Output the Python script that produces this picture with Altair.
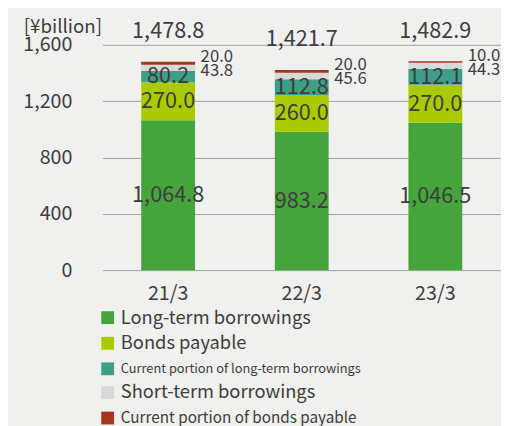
import altair as alt
import pandas as pd

periods = ["21/3", "22/3", "23/3"]
series = [
    "Long-term borrowings",
    "Bonds payable",
    "Current portion of long-term borrowings",
    "Short-term borrowings",
    "Current portion of bonds payable",
]
long_term = [1064.8, 983.2, 1046.5]
bonds = [270.0, 260.0, 270.0]
current_lt = [80.2, 112.8, 112.1]
short_term = [43.8, 45.6, 44.3]
current_bonds = [20.0, 20.0, 10.0]
totals = [1478.8, 1421.7, 1482.9]
y_ticks = [0, 400, 800, 1200, 1600]
colors = ["#45A53C", "#A9CB00", "#3E9E86", "#D9D9D9", "#A3361B"]

rows = []
for i, p in enumerate(periods):
    for j, vals in enumerate([long_term, bonds, current_lt, short_term, current_bonds]):
        rows.append({"period": p, "series": series[j], "order": j, "value": vals[i]})
df = pd.DataFrame(rows)
tot_df = pd.DataFrame({"period": periods, "total": totals, "cb": current_bonds, "st": short_term})

FONT = "Noto Sans CJK JP"
TXT = "#3d3d3d"

x_scale = alt.Scale(paddingInner=0.597, paddingOuter=0.29, align=0.5)
x_enc = alt.X(
    "period:N",
    sort=periods,
    title=None,
    scale=x_scale,
    axis=alt.Axis(labelFontSize=20, labelColor=TXT, labelFont=FONT, ticks=False,
                  domain=False, labelPadding=14, labelAngle=0),
)
y_scale = alt.Scale(domain=[0, 1600], nice=False)

bars = alt.Chart(df).mark_bar().encode(
    x=x_enc,
    y=alt.Y(
        "value:Q",
        stack="zero",
        scale=y_scale,
        axis=alt.Axis(
            values=y_ticks, format=",d", labelFontSize=20, labelColor=TXT, labelFont=FONT,
            ticks=False, domain=False, labelPadding=31, gridColor="#A0A0A0", gridWidth=1,
            title="[¥billion]", titleAngle=0, titleAlign="right", titleBaseline="alphabetic",
            titleX=-1, titleY=-12, titleFontSize=19, titleFontWeight="normal",
            titleColor=TXT, titleFont=FONT,
        ),
    ),
    color=alt.Color(
        "series:N",
        sort=series,
        scale=alt.Scale(domain=series, range=colors),
        legend=alt.Legend(
            title=None, orient="none", legendX=-4, legendY=268, symbolType="square",
            symbolSize=169, symbolStrokeWidth=0, labelOffset=4, padding=0,
            labelColor=TXT, labelFont=FONT, rowPadding=7, labelLimit=400,
            labelFontSize={"expr": "datum.label == 'Current portion of long-term borrowings' ? 13 : datum.label == 'Current portion of bonds payable' ? 15.5 : 18.6"},
        ),
    ),
    order=alt.Order("order:Q"),
)

inner = (
    alt.Chart(df)
    .transform_filter("datum.order < 3")
    .transform_stack(stack="value", as_=["v0", "v1"], groupby=["period"],
                     sort=[alt.SortField("order")])
    .transform_calculate(mid="(datum.v0 + datum.v1) / 2")
    .mark_text(fontSize=22, color=TXT, font=FONT, baseline="middle")
    .encode(x=alt.X("period:N", sort=periods, scale=x_scale), y=alt.Y("mid:Q", scale=y_scale),
            text=alt.Text("value:Q", format=",.1f"))
)

total_txt = alt.Chart(tot_df).mark_text(
    fontSize=22, color=TXT, font=FONT, baseline="alphabetic", dy=-24
).encode(x=alt.X("period:N", sort=periods, scale=x_scale), y=alt.Y("total:Q", scale=y_scale),
         text=alt.Text("total:Q", format=",.1f"))

cb_txt = alt.Chart(tot_df).mark_text(
    fontSize=17, color=TXT, font=FONT, baseline="middle", align="left", dx=33, dy=-5
).encode(x=alt.X("period:N", sort=periods, scale=x_scale), y=alt.Y("total:Q", scale=y_scale),
         text=alt.Text("cb:Q", format=",.1f"))

st_txt = alt.Chart(tot_df).mark_text(
    fontSize=17, color=TXT, font=FONT, baseline="middle", align="left", dx=33, dy=9
).encode(x=alt.X("period:N", sort=periods, scale=x_scale), y=alt.Y("total:Q", scale=y_scale),
         text=alt.Text("st:Q", format=",.1f"))

chart = (
    alt.layer(bars, inner, total_txt, cb_txt, st_txt)
    .properties(
        width=405, height=229,
        autosize=alt.AutoSizeParams(type="none"),
        padding={"left": 96, "top": 34, "right": 0, "bottom": 155},
        background="#F0F0EE",
    )
    .configure_view(stroke=None)
)

chart.save("out.html", embed_options={"renderer": "svg", "actions": False})
